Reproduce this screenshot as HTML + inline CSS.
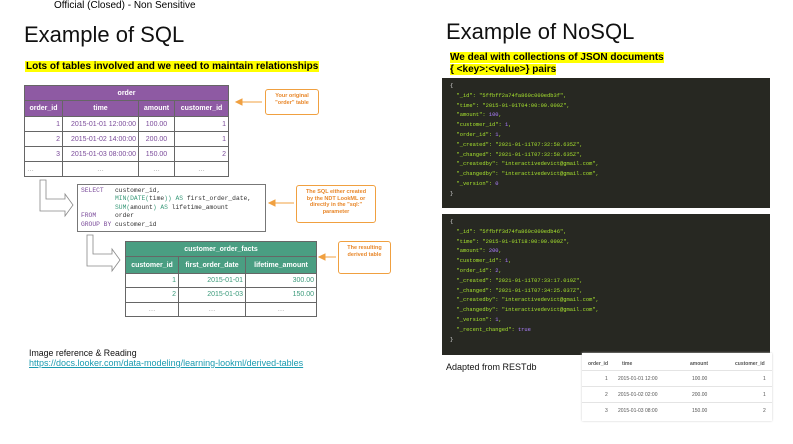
<!DOCTYPE html>
<html><head><meta charset="utf-8"><style>
body{margin:0;width:793px;height:444px;background:#fff;position:relative;overflow:hidden;font-family:"Liberation Sans",sans-serif}
.a{position:absolute}
table{border-collapse:collapse;position:absolute;font-size:7px;table-layout:fixed}
td{border:1px solid #666;text-align:right;padding:0 2px;color:#7a4a9a;white-space:nowrap;overflow:hidden}
th{color:#fff;font-weight:bold;border:1px solid #666;padding:0;white-space:nowrap;overflow:hidden}
.cb{border:1.5px solid #f0a040;border-radius:3px;color:#e8872a;font-size:5.5px;font-weight:bold;text-align:center;line-height:6.5px;box-sizing:border-box;padding-top:3px}
.js{background:#272822;font-family:"Liberation Mono",monospace;font-size:5.4px;color:#a6e22e;line-height:9.8px;padding:4px 0 0 8px;box-sizing:border-box;white-space:pre}
.p{color:#ae81ff}.w{color:#ddd}
.bt{font-size:5px;color:#555}
</style></head><body>
<div class="a" style="left:54px;top:0;font-size:10px;color:#000">Official (Closed) - Non Sensitive</div>
<div class="a" style="left:24px;top:22px;font-size:22px;color:#111">Example of SQL</div>
<div class="a" style="left:25px;top:61px;font-size:10px;font-weight:bold;background:#ff0;padding:0 1px;white-space:nowrap">Lots of tables involved and we need to maintain relationships</div>

<table style="left:24px;top:85px;width:205px;height:92px">
<colgroup><col style="width:38px"><col style="width:76px"><col style="width:36px"><col></colgroup>
<tr style="height:15px;background:#8e5aa3"><th colspan="4">order</th></tr>
<tr style="height:16px;background:#8e5aa3"><th>order_id</th><th>time</th><th>amount</th><th>customer_id</th></tr>
<tr><td>1</td><td>2015-01-01 12:00:00</td><td style="text-align:center">100.00</td><td>1</td></tr>
<tr><td>2</td><td>2015-01-02 14:00:00</td><td style="text-align:center">200.00</td><td>1</td></tr>
<tr><td>3</td><td>2015-01-03 08:00:00</td><td style="text-align:center">150.00</td><td>2</td></tr>
<tr><td style="text-align:left;color:#999">…</td><td style="text-align:center;color:#999">…</td><td style="text-align:center;color:#999">…</td><td style="text-align:center;color:#999">…</td></tr>
</table>

<div class="a cb" style="left:265px;top:89px;width:54px;height:26px">Your original<br>"order" table</div>
<svg class="a" style="left:0;top:0" width="793" height="444">
<g fill="#fff" stroke="#888" stroke-width="0.8">
<path d="M40,180 L46,180 L46,199 L65,199 L65,194 L73,205 L65,216 L65,211 L40,211 Z"/>
<path d="M87,235 L93,235 L93,254 L112,254 L112,249 L120,260 L112,271 L112,266 L87,266 Z"/>
</g>
<g stroke="#f0a040" fill="#f0a040" stroke-width="1">
<line x1="241" y1="102" x2="262" y2="102"/><path d="M236,102 L242,99 L242,105Z"/>
<line x1="274" y1="203" x2="294" y2="203"/><path d="M269,203 L275,200 L275,206Z"/>
<line x1="324" y1="257" x2="336" y2="257"/><path d="M319,257 L325,254 L325,260Z"/>
</g>
</svg>

<div class="a" style="left:77px;top:184px;width:189px;height:48px;border:1px solid #777;box-sizing:border-box;font-family:'Liberation Mono',monospace;font-size:6.3px;line-height:8.4px;padding:2px 0 0 3px;white-space:pre;color:#333"><span style="color:#7a4a9a">SELECT</span>   customer_id,
         <span style="color:#3a9a7a">MIN(DATE(</span>time<span style="color:#3a9a7a">)) AS</span> first_order_date,
         <span style="color:#3a9a7a">SUM(</span>amount<span style="color:#3a9a7a">) AS</span> lifetime_amount
<span style="color:#7a4a9a">FROM</span>     order
<span style="color:#7a4a9a">GROUP BY</span> customer_id</div>
<div class="a cb" style="left:296px;top:185px;width:80px;height:38px">The SQL either created<br>by the NDT LookML or<br>directly in the "sql:"<br>parameter</div>

<table style="left:125px;top:241px;width:192px;height:76px">
<colgroup><col style="width:53px"><col style="width:67px"><col></colgroup>
<tr style="height:15px;background:#4a9e82"><th colspan="3">customer_order_facts</th></tr>
<tr style="height:17px;background:#4a9e82"><th>customer_id</th><th>first_order_date</th><th>lifetime_amount</th></tr>
<tr><td style="color:#3a9a7a">1</td><td style="color:#3a9a7a">2015-01-01</td><td style="color:#3a9a7a">300.00</td></tr>
<tr><td style="color:#3a9a7a">2</td><td style="color:#3a9a7a">2015-01-03</td><td style="color:#3a9a7a">150.00</td></tr>
<tr><td style="text-align:center;color:#999">…</td><td style="text-align:center;color:#999">…</td><td style="text-align:center;color:#999">…</td></tr>
</table>
<div class="a cb" style="left:338px;top:241px;width:53px;height:33px">The resulting<br>derived table</div>

<div class="a" style="left:29px;top:348px;font-size:8.8px;color:#111">Image reference &amp; Reading</div>
<div class="a" style="left:29px;top:358px;font-size:9px;color:#1a9bb0;text-decoration:underline;white-space:nowrap">https://docs.looker.com/data-modeling/learning-lookml/derived-tables</div>

<div class="a" style="left:446px;top:19px;font-size:22px;color:#111">Example of NoSQL</div>
<div class="a" style="left:450px;top:52px;font-size:10px;font-weight:bold;line-height:12px;white-space:nowrap"><span style="background:#ff0">We deal with collections of JSON documents</span><br><span style="background:#ff0">{ &lt;key&gt;:&lt;value&gt;} pairs</span></div>

<div class="a js" style="left:442px;top:78px;width:328px;height:130px"><span class="w">{</span>
  "_id": "5ffbff2a74fa860c000edb3f",
  "time": "2015-01-01T04:00:00.000Z",
  "amount": <span class="p">100</span>,
  "customer_id": <span class="p">1</span>,
  "order_id": <span class="p">1</span>,
  "_created": "2021-01-11T07:32:58.635Z",
  "_changed": "2021-01-11T07:32:58.635Z",
  "_createdby": "interactivedevict@gmail.com",
  "_changedby": "interactivedevict@gmail.com",
  "_version": <span class="p">0</span>
<span class="w">}</span></div>

<div class="a js" style="left:442px;top:214px;width:328px;height:141px"><span class="w">{</span>
  "_id": "5ffbff3d74fa860c000edb46",
  "time": "2015-01-01T18:00:00.000Z",
  "amount": <span class="p">200</span>,
  "customer_id": <span class="p">1</span>,
  "order_id": <span class="p">2</span>,
  "_created": "2021-01-11T07:33:17.019Z",
  "_changed": "2021-01-11T07:34:25.037Z",
  "_createdby": "interactivedevict@gmail.com",
  "_changedby": "interactivedevict@gmail.com",
  "_version": <span class="p">1</span>,
  "_recent_changed": <span class="p">true</span>
<span class="w">}</span></div>
<div class="a" style="left:446px;top:362px;font-size:9px;color:#111">Adapted from RESTdb</div>

<div class="a" style="left:582px;top:353px;width:190px;height:68px;background:#fff;box-shadow:0 0 2px #ccc"></div>
<div class="a bt" style="left:588px;top:361px;font-weight:bold">order_id</div>
<div class="a bt" style="left:622px;top:361px;font-weight:bold">time</div>
<div class="a bt" style="left:690px;top:361px;font-weight:bold">amount</div>
<div class="a bt" style="left:735px;top:361px;font-weight:bold">customer_id</div>
<div class="a" style="left:582px;top:370px;width:190px;border-top:1px solid #e4e4e4"></div>
<div class="a" style="left:582px;top:386px;width:190px;border-top:1px solid #e4e4e4"></div>
<div class="a" style="left:582px;top:402px;width:190px;border-top:1px solid #e4e4e4"></div>
<div class="a bt" style="left:605px;top:376px">1</div><div class="a bt" style="left:618px;top:376px">2015-01-01 12:00</div><div class="a bt" style="left:692px;top:376px">100.00</div><div class="a bt" style="left:763px;top:376px">1</div>
<div class="a bt" style="left:605px;top:392px">2</div><div class="a bt" style="left:618px;top:392px">2015-01-02 02:00</div><div class="a bt" style="left:692px;top:392px">200.00</div><div class="a bt" style="left:763px;top:392px">1</div>
<div class="a bt" style="left:605px;top:408px">3</div><div class="a bt" style="left:618px;top:408px">2015-01-03 08:00</div><div class="a bt" style="left:692px;top:408px">150.00</div><div class="a bt" style="left:763px;top:408px">2</div>
</body></html>
